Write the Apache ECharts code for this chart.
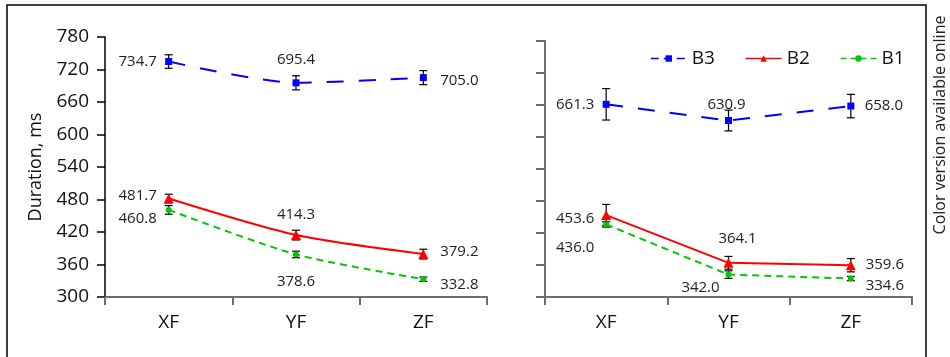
<!DOCTYPE html>
<html>
<head>
<meta charset="utf-8">
<script src="https://cdn.jsdelivr.net/npm/echarts@6/dist/echarts.min.js"></script>
<style>html,body{margin:0;padding:0;background:#fff}#c{width:950px;height:357px}</style>
</head>
<body>
<div id="c"></div>
<script>
// ---- data ----
const categories = ['XF', 'YF', 'ZF'];
const yMin = 300, yMax = 780, yStep = 60;
const seriesNames = ['B3', 'B2', 'B1'];

const leftB3 = [734.7, 695.4, 705.0];
const leftB2 = [481.7, 414.3, 379.2];
const leftB1 = [460.8, 378.6, 332.8];
const rightB3 = [661.3, 630.9, 658.0];
const rightB2 = [453.6, 364.1, 359.6];
const rightB1 = [436.0, 342.0, 334.6];

// error bar half-widths (ms)
const leftB3Err = [12.5, 13, 13];
const leftB2Err = [8, 9, 9];
const leftB1Err = [8, 6, 4];
const rightB3Err = [29.5, 19.5, 22];
const rightB2Err = [20, 12, 12.5];
const rightB1Err = [5, 7, 4];

// label offsets from point centre (px)
const leftB3Lbl = [[-31, 0], [0, -23], [36, 3]];
const leftB2Lbl = [[-31, -3], [0, -20], [36, -2]];
const leftB1Lbl = [[-31, 9], [0, 27], [36, 6]];
const rightB3Lbl = [[-31, 0], [-2, -16], [33, 0]];
const rightB2Lbl = [[-31, 4], [9, -24], [34, 0]];
const rightB1Lbl = [[-31, 23], [-28, 13], [34, 7]];

const FONT = 'Open Sans';
const styles = {
  B3: { color: '#0000ff', symbol: 'rect', size: 7, type: [17, 15], legendType: [8, 5] },
  B2: { color: '#ff0000', symbol: 'triangle', size: 10, type: 'solid', legendType: 'solid' },
  B1: { color: '#00c800', symbol: 'circle', size: 6, type: [7, 5], legendType: [6, 4] }
};

function lineSeries(name, values, lbl, gi, smooth) {
  const s = styles[name];
  return {
    name: name, type: 'line', xAxisIndex: gi, yAxisIndex: gi, z: 3,
    smooth: smooth,
    symbol: s.symbol, symbolSize: s.size,
    itemStyle: { color: s.color },
    lineStyle: { color: s.color, width: 2, type: s.type },
    data: values.map((v, i) => ({
      value: v,
      label: { show: true, position: 'inside', offset: lbl[i],
        formatter: p => Number(p.value).toFixed(1),
        color: '#222', fontSize: 15, fontFamily: FONT }
    }))
  };
}

function errSeries(values, errs, gi) {
  return {
    type: 'custom', xAxisIndex: gi, yAxisIndex: gi, z: 2, silent: true,
    encode: { x: 0, y: 1 },
    data: values.map((v, i) => [i, v, errs[i]]),
    renderItem: function (params, api) {
      const x = api.value(0), v = api.value(1), e = api.value(2);
      const top = api.coord([x, v + e]);
      const bot = api.coord([x, v - e]);
      const hw = 4;
      const st = { stroke: '#000', lineWidth: 1.2 };
      return { type: 'group', children: [
        { type: 'line', shape: { x1: top[0], y1: top[1], x2: bot[0], y2: bot[1] }, style: st },
        { type: 'line', shape: { x1: top[0] - hw, y1: top[1], x2: top[0] + hw, y2: top[1] }, style: st },
        { type: 'line', shape: { x1: bot[0] - hw, y1: bot[1], x2: bot[0] + hw, y2: bot[1] }, style: st }
      ]};
    }
  };
}

const chart = echarts.init(document.getElementById('c'), null, { renderer: 'canvas' });

const xAxisBase = {
  type: 'category', data: categories, boundaryGap: true,
  axisLine: { lineStyle: { color: '#6e6e6e', width: 2 } },
  axisTick: { show: true, inside: false, length: 8, lineStyle: { color: '#6e6e6e', width: 2 } },
  axisLabel: { color: '#111', fontSize: 19, fontFamily: FONT, margin: 16 },
  splitLine: { show: false }
};

const option = {
  backgroundColor: '#fff',
  animation: false,
  grid: [
    { left: 105, top: 37, width: 382, height: 260 },
    { left: 545, top: 41, width: 367, height: 256 }
  ],
  legend: {
    data: seriesNames.map(n => ({
      name: n,
      lineStyle: { width: 1.5, type: styles[n].legendType, color: styles[n].color }
    })),
    left: 645, top: 44, itemWidth: 36, itemHeight: 8, itemGap: 30,
    textStyle: { color: '#111', fontSize: 19, fontFamily: FONT }
  },
  xAxis: [
    Object.assign({ gridIndex: 0 }, xAxisBase),
    Object.assign({ gridIndex: 1 }, xAxisBase)
  ],
  yAxis: [
    { type: 'value', gridIndex: 0, min: yMin, max: yMax, interval: yStep,
      name: 'Duration, ms', nameLocation: 'middle', nameGap: 60,
      nameTextStyle: { color: '#111', fontSize: 18, fontFamily: FONT },
      axisLine: { show: true, lineStyle: { color: '#000', width: 1.5 } },
      axisTick: { show: true, length: 8, lineStyle: { color: '#000', width: 1.5 } },
      axisLabel: { color: '#111', fontSize: 19, fontFamily: FONT, margin: 16 },
      splitLine: { show: false } },
    { type: 'value', gridIndex: 1, min: yMin, max: yMax, interval: yStep,
      axisLine: { show: true, lineStyle: { color: '#6e6e6e', width: 2 } },
      axisTick: { show: true, length: 9, lineStyle: { color: '#6e6e6e', width: 2 } },
      axisLabel: { show: false },
      splitLine: { show: false } }
  ],
  graphic: [
    { type: 'rect', shape: { x: 7, y: 5, width: 919, height: 370 },
      style: { fill: 'none', stroke: '#000', lineWidth: 1.5 }, silent: true },
    { type: 'text', x: 940, y: 125, rotation: Math.PI / 2,
      style: { text: 'Color version available online', fill: '#222', fontSize: 16,
        fontFamily: FONT, align: 'center', verticalAlign: 'middle' } }
  ],
  series: [
    errSeries(leftB3, leftB3Err, 0),
    errSeries(leftB2, leftB2Err, 0),
    errSeries(leftB1, leftB1Err, 0),
    errSeries(rightB3, rightB3Err, 1),
    errSeries(rightB2, rightB2Err, 1),
    errSeries(rightB1, rightB1Err, 1),
    lineSeries('B3', leftB3, leftB3Lbl, 0, 0.25),
    lineSeries('B2', leftB2, leftB2Lbl, 0, 0.25),
    lineSeries('B1', leftB1, leftB1Lbl, 0, 0.25),
    lineSeries('B3', rightB3, rightB3Lbl, 1, false),
    lineSeries('B2', rightB2, rightB2Lbl, 1, false),
    lineSeries('B1', rightB1, rightB1Lbl, 1, false)
  ]
};
chart.setOption(option);
</script>
</body>
</html>
